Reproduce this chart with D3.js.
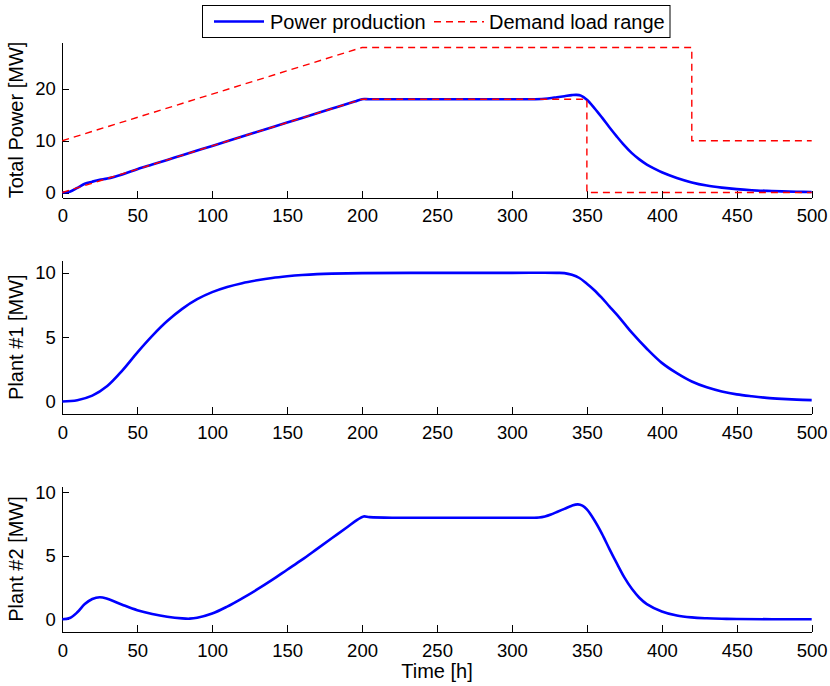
<!DOCTYPE html>
<html>
<head>
<meta charset="utf-8">
<script src="https://cdn.jsdelivr.net/npm/d3@7"></script>
<style>
   body { margin: 0; background: #fff; }
   svg { display: block; font-family: "Liberation Sans", Arial, Helvetica, sans-serif; }
   .axis path, .axis line { stroke: #000; shape-rendering: crispEdges; }
   .axis text { fill: #000; font-size: 18.5px; }
</style>
</head>
<body>
<div id="chart"></div>
<script>

// TIME TICKS [h]
var timeTicks = [0, 50, 100, 150, 200, 250, 300, 350, 400, 450, 500];

// TOTAL POWER PRODUCTION [MW]
var totalTime = [0, 5, 10, 15, 20, 25, 30, 40, 50, 60, 70, 80, 90, 100, 120, 140, 160, 180, 195, 200, 205, 250, 300, 320, 325, 330, 335, 340, 343, 346, 350, 355, 360, 365, 370, 375, 380, 385, 390, 395, 400, 410, 420, 430, 440, 450, 460, 470, 480, 490, 500];
var totalPower = [0, 0.15, 0.9, 1.7, 2.1, 2.45, 2.7, 3.5, 4.5, 5.4, 6.3, 7.2, 8.1, 9.0, 10.8, 12.6, 14.4, 16.2, 17.55, 18.02, 18.0, 18, 18, 18.05, 18.2, 18.4, 18.6, 18.8, 18.85, 18.7, 17.9, 16.3, 14.5, 12.6, 10.8, 9.1, 7.6, 6.4, 5.4, 4.6, 3.9, 2.8, 1.95, 1.35, 0.95, 0.65, 0.45, 0.32, 0.22, 0.15, 0.1];

// DEMAND LOAD RANGE [MW]
var lowerTime = [0, 200, 350, 350, 500];
var lowerLoad = [0, 18, 18, 0, 0];
var upperTime = [0, 200, 420, 420, 500];
var upperLoad = [10, 28, 28, 10, 10];

// PLANT #1 [MW]
var plant1Time = [0, 10, 20, 30, 40, 50, 60, 70, 80, 90, 100, 110, 120, 130, 140, 150, 160, 170, 180, 200, 250, 300, 330, 335, 340, 345, 350, 355, 360, 365, 370, 375, 380, 390, 400, 410, 420, 430, 440, 450, 460, 470, 480, 490, 500];
var plant1Power = [0, 0.1, 0.45, 1.2, 2.4, 3.8, 5.1, 6.25, 7.2, 7.95, 8.5, 8.9, 9.2, 9.42, 9.6, 9.73, 9.83, 9.9, 9.94, 9.98, 10, 10, 10, 9.98, 9.85, 9.6, 9.15, 8.65, 8.05, 7.4, 6.75, 6.05, 5.35, 4.1, 3.0, 2.2, 1.55, 1.1, 0.78, 0.55, 0.4, 0.28, 0.2, 0.14, 0.1];

// PLANT #2 [MW]
var plant2Time = [0, 5, 10, 15, 20, 25, 30, 40, 50, 60, 70, 80, 85, 90, 100, 110, 120, 130, 140, 150, 160, 170, 180, 190, 197, 201, 205, 220, 250, 300, 318, 322, 326, 330, 335, 340, 344, 347, 350, 355, 360, 365, 370, 375, 380, 385, 390, 400, 410, 420, 430, 440, 450, 500];
var plant2Power = [0, 0.1, 0.55, 1.2, 1.6, 1.74, 1.62, 1.15, 0.72, 0.42, 0.2, 0.07, 0.05, 0.12, 0.45, 1.0, 1.65, 2.35, 3.1, 3.9, 4.7, 5.55, 6.4, 7.25, 7.85, 8.1, 8.05, 8.0, 8.0, 8.0, 8.02, 8.1, 8.25, 8.45, 8.7, 8.95, 9.05, 8.95, 8.65, 7.8, 6.75, 5.55, 4.4, 3.3, 2.4, 1.7, 1.2, 0.62, 0.3, 0.15, 0.08, 0.04, 0.02, 0];

// CANVAS
var width = 830, height = 686;

var svg = d3.select('#chart').append('svg')
   .attr('width', width)
   .attr('height', height);

svg.append('rect')
   .attr('width', width)
   .attr('height', height)
   .attr('fill', '#fff');

// SHARED X-SCALING
var xScale = d3.scaleLinear()
   .domain([0, 500])
   .range([62.3, 811.7]);

// PANEL SETTINGS
var panels = [
   { top: 42.3, bottom: 197.7, domain: [-1, 29], ticks: [0, 10, 20], label: 'Total Power [MW]' },
   { top: 260, bottom: 414.3, domain: [-1, 11], ticks: [0, 5, 10], label: 'Plant #1 [MW]' },
   { top: 486, bottom: 632, domain: [-1, 10.5], ticks: [0, 5, 10], label: 'Plant #2 [MW]' }
];

// ZIP TWO ARRAYS INTO POINTS
function zip(xs, ys) {
   return xs.map((x, i) => [x, ys[i]]);
}

// DRAW ONE PANEL
function panel(p) {

   var yScale = d3.scaleLinear()
      .domain(p.domain)
      .range([p.bottom, p.top]);

   var g = svg.append('g');

   // X AXIS
   g.append('g')
      .attr('class', 'axis')
      .attr('transform', 'translate(0,' + p.bottom + ')')
      .call(d3.axisBottom(xScale)
         .tickValues(timeTicks)
         .tickFormat(d3.format('d'))
         .tickSizeInner(-7)
         .tickSizeOuter(0)
         .tickPadding(11.5));

   // Y AXIS
   g.append('g')
      .attr('class', 'axis')
      .attr('transform', 'translate(' + xScale(0) + ',0)')
      .call(d3.axisLeft(yScale)
         .tickValues(p.ticks)
         .tickFormat(d3.format('d'))
         .tickSizeInner(-7)
         .tickSizeOuter(0)
         .tickPadding(6.5));

   g.selectAll('.axis text').attr('font-family', null).attr('font-size', null);

   // Y LABEL
   g.append('text')
      .attr('transform', 'translate(23,' + ((p.top + p.bottom) / 2) + ') rotate(-90)')
      .attr('text-anchor', 'middle')
      .attr('font-size', 20)
      .text(p.label);

   var line = d3.line()
      .x((d) => xScale(d[0]))
      .y((d) => yScale(d[1]));

   return { g: g, y: yScale, line: line };
}

var totalPanel = panel(panels[0]);
var plant1Panel = panel(panels[1]);
var plant2Panel = panel(panels[2]);

// SMOOTH LINE FOR PRODUCTION
function production(target, xs, ys) {
   target.g.append('path')
      .attr('fill', 'none')
      .attr('stroke', '#0000ff')
      .attr('stroke-width', 2.6)
      .attr('stroke-linejoin', 'round')
      .attr('d', target.line.curve(d3.curveCatmullRom.alpha(0.5))(zip(xs, ys)));
}

// DASHED LINE FOR DEMAND
function demand(target, xs, ys) {
   target.g.append('path')
      .attr('fill', 'none')
      .attr('stroke', '#ff0000')
      .attr('stroke-width', 1.4)
      .attr('stroke-dasharray', '7,5')
      .attr('d', target.line.curve(d3.curveLinear)(zip(xs, ys)));
}

production(totalPanel, totalTime, totalPower);
demand(totalPanel, lowerTime, lowerLoad);
demand(totalPanel, upperTime, upperLoad);

production(plant1Panel, plant1Time, plant1Power);
production(plant2Panel, plant2Time, plant2Power);

// X LABEL
svg.append('text')
   .attr('x', (xScale(0) + xScale(500)) / 2)
   .attr('y', 678)
   .attr('text-anchor', 'middle')
   .attr('font-size', 20)
   .text('Time [h]');

// LEGEND
var legend = svg.append('g');

legend.append('rect')
   .attr('x', 202.5)
   .attr('y', 5.5)
   .attr('width', 467.5)
   .attr('height', 32)
   .attr('fill', '#fff')
   .attr('stroke', '#000')
   .attr('stroke-width', 1);

legend.append('line')
   .attr('x1', 214).attr('x2', 264)
   .attr('y1', 21.5).attr('y2', 21.5)
   .attr('stroke', '#0000ff')
   .attr('stroke-width', 2.6);

legend.append('text')
   .attr('x', 270)
   .attr('y', 28.5)
   .attr('font-size', 20)
   .text('Power production');

legend.append('path')
   .attr('d', 'M434,21.7H484')
   .attr('fill', 'none')
   .attr('stroke', '#ff0000')
   .attr('stroke-width', 1.4)
   .attr('stroke-dasharray', '7,5');

legend.append('text')
   .attr('x', 489)
   .attr('y', 28.5)
   .attr('font-size', 20)
   .text('Demand load range');

</script>
</body>
</html>
